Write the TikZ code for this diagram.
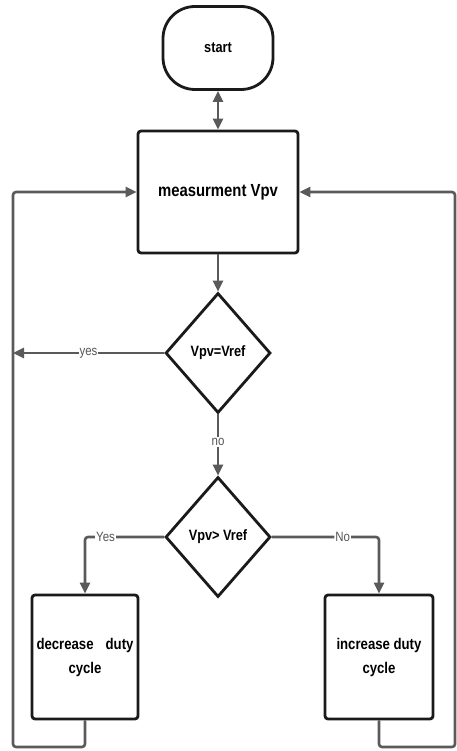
\documentclass[tikz,border=0pt]{standalone}
\usepackage{fontspec}
\setmainfont{Liberation Sans}[FakeStretch=0.85]
\usetikzlibrary{shapes.geometric,arrows.meta}
\definecolor{linegray}{HTML}{5A5A5A}
\definecolor{bordercol}{HTML}{1A1A1A}
\definecolor{labgray}{HTML}{555555}
\tikzset{
  term/.style={draw=bordercol, line width=2.8pt, rounded corners=32pt, minimum width=110pt, minimum height=83pt, inner sep=0pt, font=\bfseries\fontsize{15}{17}\selectfont},
  proc/.style={draw=bordercol, line width=2.8pt, rounded corners=3pt, inner sep=0pt, align=center, font=\bfseries\fontsize{15.5}{24}\selectfont},
  decis/.style={draw=bordercol, line width=2.8pt, diamond, aspect=0.875, minimum width=105pt, minimum height=120pt, inner sep=0pt, font=\bfseries\fontsize{15}{17}\selectfont},
  conn/.style={draw=linegray, line width=2.6pt},
  tip/.style={-{Triangle[length=11pt,width=10pt]}},
  lab/.style={fill=white, inner sep=1pt, text=labgray, font=\fontsize{13.5}{15}\selectfont}
}
\begin{document}
\begin{tikzpicture}[x=1pt,y=-1pt]
\useasboundingbox (0,0) rectangle (457,751);
\node[term] (start) at (218,48) {start};
\node[proc, minimum width=160pt, minimum height=122pt, font=\bfseries\fontsize{17.5}{20}\selectfont] (meas) at (218,192) {measurment Vpv};
\node[decis] (d1) at (218,353) {Vpv=Vref};
\node[decis] (d2) at (218,537) {Vpv> Vref};
\node[proc, minimum width=106pt, minimum height=124pt] (dec) at (85,657) {\makebox[97pt][s]{decrease duty}\\cycle};
\node[proc, minimum width=108pt, minimum height=124pt] (inc) at (379,657) {increase duty\\cycle};
\coordinate (yl) at (13,353);
\coordinate (yc) at (85,537);
\coordinate (nc) at (379,537);
\coordinate (bl) at (13,747);
\coordinate (br) at (455,747);
% connectors
\draw[conn, {Triangle[length=11pt,width=10pt]}-{Triangle[length=11pt,width=10pt]}] (start) -- (meas);
\draw[conn, tip] (meas) -- (d1);
\draw[conn, tip] (d1.west) -- node[lab] {yes} (yl);
\draw[conn, tip] (d1) -- node[lab, pos=0.45] {no} (d2);
\draw[conn, tip, rounded corners=3pt] (d2.west) -- node[lab, pos=0.74] {Yes} (yc) -- (dec.north);
\draw[conn, tip, rounded corners=3pt] (d2.east) -- node[lab, pos=0.66] {No} (nc) -- (inc.north);
\draw[conn, tip, rounded corners=3pt] (dec.south) |- (bl) |- (meas.west);
\draw[conn, tip, rounded corners=3pt] (inc.south) |- (br) |- (meas.east);
\end{tikzpicture}
\end{document}
